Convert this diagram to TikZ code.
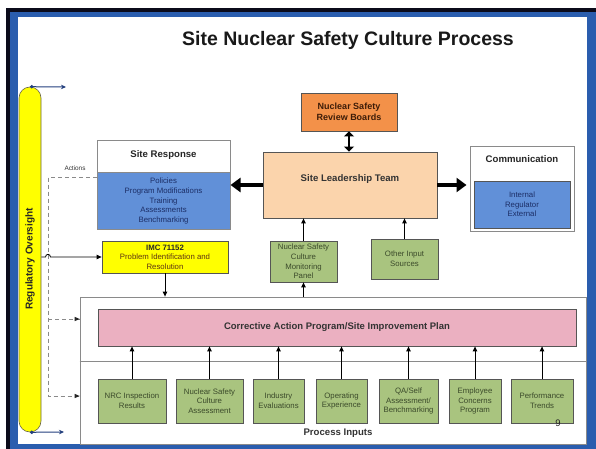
\documentclass[tikz,border=0pt]{standalone}
\usepackage{fontspec}
\setmainfont{Liberation Sans}
\usetikzlibrary{arrows.meta,calc}

\definecolor{framedark}{HTML}{0B0B1A}
\definecolor{frameblue}{HTML}{2A5DAE}
\definecolor{boxline}{HTML}{555555}
\definecolor{greyline}{HTML}{8A8A8A}
\definecolor{bodyblue}{HTML}{6190D8}
\definecolor{navytext}{HTML}{1C2E66}
\definecolor{capyellow}{HTML}{FFFF00}
\definecolor{pinkfill}{HTML}{EBB0C1}
\definecolor{greenfill}{HTML}{A9C47F}
\definecolor{greentext}{HTML}{3B4A2A}
\definecolor{peachfill}{HTML}{FBD4AC}
\definecolor{orangefill}{HTML}{F39149}
\definecolor{browntext}{HTML}{3D1C08}
\definecolor{imctext}{HTML}{5E3412}
\definecolor{regline}{HTML}{24407E}

\begin{document}
\begin{tikzpicture}[x=1pt,y=-1pt,
  box/.style={draw=boxline, line width=0.8pt, inner sep=0pt, align=center},
  smalltext/.style={font=\fontsize{7.8}{9.6}\selectfont},
  boldtitle/.style={font=\fontsize{9.6}{11}\selectfont\bfseries},
  inbox/.style={box, fill=greenfill, text=greentext, smalltext},
  thinarrow/.style={draw=black, line width=0.9pt, -{Triangle[length=5pt,width=4.5pt]}},
  bigarrow/.style={draw=black, line width=4pt, -{Triangle[length=10pt,width=14pt]}},
  dblarrow/.style={draw=black, line width=2.6pt, {Triangle[length=5pt,width=10pt]}-{Triangle[length=5pt,width=10pt]}},
  dashline/.style={draw=greyline, line width=1pt, dash pattern=on 4pt off 3pt},
  regarrow/.style={draw=regline, line width=1pt, {Circle[length=3.5pt]}-{Stealth[length=5pt,width=4.5pt]}}
]
\useasboundingbox (0,0) rectangle (596,449);

% slide frame
\fill[white] (0,0) rectangle (596,449);
\fill[framedark] (6,8) rectangle (596,449);
\fill[frameblue] (10,12) rectangle (596,449);
\fill[white] (18,17) rectangle (587,444);

% title
\node[font=\fontsize{19.5}{22}\selectfont\bfseries, text=black!90] (title) at (348,40) {Site Nuclear Safety Culture Process};

% regulatory oversight bar
\node[draw=black!45!yellow!60!black, line width=0.6pt, fill=capyellow, rounded corners=11pt,
      minimum width=22pt, minimum height=345pt, inner sep=0pt] (reg) at (30,259.5) {};
\node[rotate=90, font=\fontsize{10}{12}\selectfont\bfseries, text=black!85] (regtext) at (30,259) {Regulatory Oversight};
\coordinate (regtopend) at (66,87);
\coordinate (regbotend) at (64,432);
\draw[regarrow] (reg.north) -- (regtopend);
\draw[regarrow] (reg.south) -- (regbotend);

% process container with inputs section
\node[draw=greyline, line width=0.8pt, fill=white, minimum width=506pt, minimum height=147pt, inner sep=0pt] (proc) at (333,370.5) {};
\draw[draw=greyline, line width=0.8pt] (proc.west |- 0,361) coordinate (divl) -- (divl -| proc.east);

% site response
\node[draw=greyline, line width=1pt, fill=white, minimum width=133pt, minimum height=89pt, inner sep=0pt] (sr) at (163.5,185) {};
\node[boldtitle, text=black!85] (srtitle) at (163.5,155.5) {Site Response};
\node[draw=greyline, line width=1pt, fill=bodyblue, text=navytext, smalltext, align=center,
      minimum width=133pt, minimum height=57pt, inner sep=0pt] (srbody) at (163.5,201)
      {Policies\\Program Modifications\\Training\\Assessments\\Benchmarking};

% communication
\node[draw=greyline, line width=1pt, fill=white, minimum width=104pt, minimum height=84pt, inner sep=0pt] (comm) at (522,189) {};
\node[boldtitle, text=black!85] (commtitle) at (522,159.5) {Communication};
\node[draw=boxline, line width=0.8pt, fill=bodyblue, text=navytext, smalltext, align=center,
      minimum width=96pt, minimum height=47pt, inner sep=0pt] (commbody) at (522,204.5)
      {Internal\\Regulator\\External};

% leadership and review boards
\node[box, fill=peachfill, minimum width=174pt, minimum height=66pt] (slt) at (350,185) {};
\node[boldtitle, text=black!80] (slttext) at (350,179.5) {Site Leadership Team};
\node[box, fill=orangefill, text=browntext, font=\fontsize{9}{11.5}\selectfont\bfseries,
      minimum width=96pt, minimum height=38pt] (nsrb) at (349,112) {Nuclear Safety\\Review Boards};

% IMC box
\node[box, fill=capyellow, text=imctext, smalltext, minimum width=126pt, minimum height=32pt] (imc) at (165,257)
      {\textbf{\color{black!85}IMC 71152}\\Problem Identification and\\Resolution};

% monitoring panel and other inputs
\node[inbox, minimum width=67pt, minimum height=41pt] (nscmp) at (303.5,261.5)
      {Nuclear Safety\\Culture\\Monitoring\\Panel};
\node[inbox, minimum width=67pt, minimum height=40pt] (other) at (404.5,259)
      {Other Input\\Sources};

% corrective action program
\node[box, fill=pinkfill, text=black!80, font=\fontsize{9.5}{11}\selectfont\bfseries,
      minimum width=478pt, minimum height=37pt] (cap) at (337,327.5)
      {Corrective Action Program/Site Improvement Plan};

% process inputs
\node[inbox, minimum width=68pt, minimum height=44pt] (in1) at (132,401) {NRC Inspection\\Results};
\node[inbox, minimum width=67pt, minimum height=44pt] (in2) at (209.5,401) {Nuclear Safety\\Culture\\Assessment};
\node[inbox, minimum width=51pt, minimum height=44pt] (in3) at (278.5,401) {Industry\\Evaluations};
\node[inbox, minimum width=51pt, minimum height=44pt] (in4) at (341.5,401) {Operating\\Experience};
\node[inbox, minimum width=59pt, minimum height=44pt] (in5) at (408.5,401) {QA/Self\\Assessment/\\Benchmarking};
\node[inbox, minimum width=52pt, minimum height=44pt] (in6) at (475,401) {Employee\\Concerns\\Program};
\node[inbox, minimum width=62pt, minimum height=44pt] (in7) at (542,401) {Performance\\Trends};
\node[font=\fontsize{9.6}{11}\selectfont\bfseries, text=black!80] (pinputs) at (338,433) {Process Inputs};
\node[font=\fontsize{9.5}{11}\selectfont, text=black!85] (pagenum) at (558,423) {9};

% connectors
\draw[bigarrow] (slt.west) -- (slt.west -| sr.east);
\draw[bigarrow, shorten >=3pt] (slt.east) -- (slt.east -| comm.west);
\draw[dblarrow] (nsrb.south) -- (nsrb.south |- slt.north);
\draw[thinarrow] (nscmp.north) -- (nscmp.north |- slt.south);
\draw[thinarrow] (other.north) -- (other.north |- slt.south);
\draw[thinarrow] (nscmp.south |- proc.north) -- (nscmp.south);
\draw[thinarrow] (imc.south) -- (imc.south |- proc.north);
\foreach \n in {in1,in2,in3,in4,in5,in6,in7}
  \draw[thinarrow] (\n.north) -- (\n.north |- cap.south);

% regulatory oversight links
\coordinate (dcorner) at (48,177);
\coordinate (dmid) at (48,319);
\coordinate (dbot) at (48,396);
\node[font=\fontsize{6.4}{7}\selectfont, text=black!80] (actions) at (75,168) {Actions};
\draw[dashline] (srbody.west |- dcorner) -- (dcorner) -- (dbot) -- (dbot -| proc.west);
\draw[dashline] (dmid) -- (dmid -| proc.west);
\fill[black!85] (dmid -| proc.west) -- ++(-5,-2.2) -- ++(0,4.4) -- cycle;
\fill[black!85] (dbot -| proc.west) -- ++(-5,-2.2) -- ++(0,4.4) -- cycle;
% solid link hops over the dashed line
\draw[thinarrow, line width=0.8pt] (reg.east |- imc.west) -- (45.5,257)
  .. controls (45.5,253.5) and (50.5,253.5) .. (50.5,257) -- (imc.west);
\end{tikzpicture}
\end{document}
